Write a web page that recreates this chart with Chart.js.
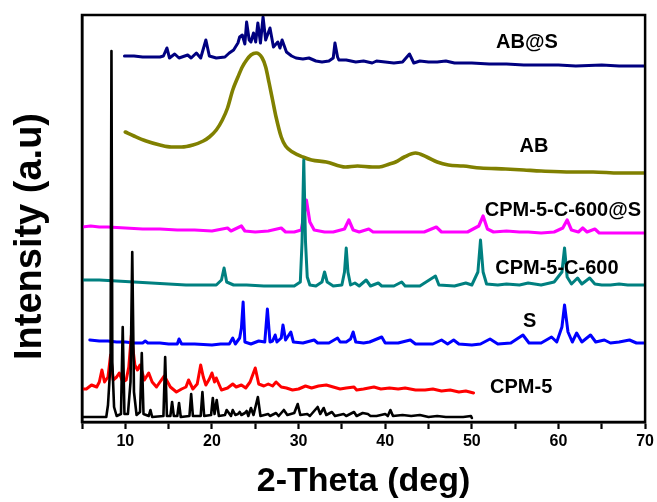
<!DOCTYPE html>
<html>
<head>
<meta charset="utf-8">
<script src="https://cdn.jsdelivr.net/npm/chart.js@4/dist/chart.umd.min.js"></script>
<style>
  html, body { margin: 0; padding: 0; background: #ffffff; }
  #wrap { width: 657px; height: 502px; }
</style>
</head>
<body>
<div id="wrap"><canvas id="c" width="657" height="502"></canvas></div>
<script>
// ---------- x-axis ticks ----------
const xTickValues = [5, 10, 15, 20, 25, 30, 35, 40, 45, 50, 55, 60, 65, 70];

// ---------- CPM-5 (simulated, black) ----------
const cpm5SimTheta = [5.0,7.8,8.0,8.3,8.4,8.5,8.7,9.0,9.5,9.7,9.9,10.3,10.6,10.8,11.0,11.3,11.7,11.9,12.1,12.7,12.9,13.1,14.4,14.6,14.8,15.2,15.4,15.6,16.0,16.2,16.4,17.4,17.6,17.8,18.7,18.9,19.1,19.9,20.1,20.3,20.55,20.8,21.5,21.7,22.2,22.4,22.7,23.0,23.2,23.4,23.8,24.0,24.2,24.5,24.8,25.3,25.6,26.5,26.7,27.4,27.7,28.3,28.7,29.5,29.9,30.2,31.0,31.3,32.2,32.5,32.9,33.2,33.85,34.2,35.2,35.5,36.4,36.7,37.4,38.0,38.3,39.0,40.0,40.3,40.6,40.9,42.0,43.0,44.0,44.5,45.0,46.0,47.0,48.0,49.0,49.9,50.0];
const cpm5SimInt   = [5,5,17,60,371,60,15,6,8,95,8,8,40,170,30,7,10,69,8,6,12,5,6,65,6,6,20,6,6,19,5,6,28,6,6,30,6,7,24,8,22,6,7,12,6,12,7,8,10,7,9,11,6,14,7,25,6,8,6,9,6,12,7,9,18,7,8,6,15,8,14,7,10,6,8,6,10,6,9,8,6,6,8,6,12,6,7,6,7,6,5,6,5,5,5,6,4];

// ---------- CPM-5 (red) ----------
const cpm5Theta = [5.1,5.5,6.1,6.7,7.0,7.3,7.6,8.0,8.3,8.6,9.0,9.3,9.7,10.1,10.4,10.7,11.1,11.4,11.7,12.2,12.7,13.1,13.6,14.0,14.5,15.2,15.9,16.5,17.0,17.3,17.8,18.3,18.7,19.0,19.3,19.7,20.0,20.3,20.5,21.1,21.8,22.4,22.8,23.4,23.9,24.4,25.0,25.4,26.0,26.5,27.0,27.4,28.0,28.6,29.3,30.0,30.8,31.5,32.3,33.2,34.0,34.8,35.5,36.4,36.7,37.5,38.7,39.5,40.5,41.5,42.3,43.5,44.6,45.5,46.5,47.5,48.5,49.3,50.2];
const cpm5Int   = [33,33,37,35,40,52,40,45,67,42,45,49,40,42,55,87,57,52,57,42,49,40,35,40,46,35,30,33,35,42,33,38,57,45,37,43,49,40,44,32,34,38,35,37,34,40,54,38,36,38,36,40,35,34,32,33,36,34,36,37,35,33,34,35,32,33,35,33,34,33,34,32,32,33,31,32,30,31,29];

// ---------- S (blue) ----------
const sTheta = [5.9,7.0,8.0,9.0,10.0,11.0,12.0,12.3,12.6,14.0,15.0,16.0,16.2,16.5,18.0,20.0,21.0,22.0,22.4,22.7,23.2,23.4,23.6,23.8,24.5,25.4,26.1,26.4,26.7,27.0,27.3,27.5,28.0,28.2,28.5,29.1,29.4,30.5,31.8,32.2,33.5,34.5,34.8,35.5,36.0,36.3,36.6,37.5,38.2,39.6,40.0,41.5,42.9,43.5,44.5,45.5,46.5,47.2,47.9,48.5,50.0,51.0,52.1,53.0,54.5,55.9,56.6,58.0,59.2,59.8,60.4,60.7,61.1,61.6,62.1,62.7,63.7,64.3,65.3,66.0,67.0,68.2,69.0,70.0];
const sInt   = [82,81,81,80,80,79,79,81,79,79,78,78,83,78,78,77,78,78,84,78,84,94,120,80,78,81,80,113,80,81,87,80,84,97,82,90,80,79,82,79,79,84,80,80,83,90,80,79,80,85,79,79,82,78,78,78,82,78,82,78,77,78,83,78,79,87,79,79,85,80,95,117,90,80,89,80,87,80,82,79,80,82,79,79];

// ---------- CPM-5-C-600 (teal) ----------
const c600Theta = [5.0,7.0,9.0,11.0,13.0,15.0,17.0,19.0,20.5,21.1,21.4,21.7,22.5,24.0,26.0,28.0,29.5,30.2,30.4,30.6,30.8,31.0,31.3,32.0,32.7,33.0,33.3,34.0,35.0,35.3,35.5,35.7,36.0,36.5,37.0,37.8,38.3,39.2,39.6,41.0,41.9,42.3,44.0,45.8,46.2,48.0,49.3,50.0,50.7,51.0,51.3,51.7,53.0,54.0,55.5,56.5,58.0,59.5,60.4,60.7,61.0,61.5,62.2,62.7,63.6,64.2,65.0,66.0,67.0,68.0,69.0,70.0];
const c600Int   = [142,142,141,140,139,138,137,137,137,142,154,140,137,137,136,136,136,140,180,262,180,145,137,136,140,150,140,136,137,150,174,150,137,139,136,142,136,139,136,136,140,136,136,146,137,136,139,137,150,182,150,138,137,138,137,139,137,140,150,174,145,138,144,138,144,138,137,137,138,137,137,137];

// ---------- CPM-5-C-600@S (magenta) ----------
const c600sTheta = [5.0,6.0,7.0,8.0,10.0,12.0,14.0,16.0,18.0,20.0,21.8,22.2,23.4,23.8,25.0,26.5,28.0,28.5,29.5,30.3,30.6,30.9,31.3,31.8,33.0,34.0,35.3,35.8,36.3,37.0,38.1,38.6,40.0,41.5,43.0,44.5,45.9,46.5,48.0,49.5,50.8,51.3,51.8,52.5,54.0,55.5,56.5,58.0,59.5,60.5,61.0,61.5,62.3,62.8,63.3,64.2,64.7,66.0,68.0,70.0];
const c600sInt   = [195,196,195,195,194,193,193,192,192,191,194,191,196,191,190,191,194,190,190,192,205,222,200,192,190,190,193,202,192,190,193,190,190,190,190,190,195,190,190,190,196,206,193,190,191,190,190,189,190,194,202,192,190,194,190,193,189,189,189,189];

// ---------- AB (olive) ----------
const abTheta = [10.0,11.0,12.4,14.0,15.3,16.5,17.8,19.0,19.7,20.5,21.2,21.8,22.4,23.0,23.5,24.0,24.5,25.1,25.8,26.2,26.6,27.0,27.4,28.0,28.5,29.3,30.5,31.5,33.2,35.4,36.8,38.5,39.3,40.5,41.2,42.2,43.5,44.8,46.0,47.3,49.0,51.0,53.9,56.0,58.0,61.5,64.0,67.0,70.0];
const abInt   = [290,286,281,277,275,275,277,281,285,292,302,314,332,345,355,362,367,369,364,355,339,322,305,285,276,270,265,262,260,255,256,255,255,258,260,265,269,265,260,257,256,254,253,252,251,250,250,249,249];

// ---------- AB@S (navy) ----------
const absTheta = [9.9,11.0,12.0,13.0,14.0,14.4,14.8,15.1,15.7,16.2,17.2,17.6,18.2,18.7,19.3,19.7,20.5,21.5,22.0,22.5,23.0,23.2,23.5,23.8,24.0,24.3,24.5,24.8,25.05,25.3,25.6,25.9,26.2,26.7,27.1,27.6,27.85,28.1,28.6,29.2,29.7,30.5,31.2,32.0,32.7,33.5,34.0,34.2,34.5,34.65,35.5,36.6,37.5,38.5,39.0,40.0,41.0,42.0,42.8,43.3,44.0,45.0,46.0,47.0,48.0,50.0,52.0,54.0,56.0,58.0,60.0,62.0,65.0,67.0,70.0];
const absInt   = [366,366,365,365,365,366,374,364,368,364,367,364,369,364,382,366,364,365,369,372,379,385,387,378,400,382,380,389,380,399,379,405,382,394,375,380,374,382,370,366,364,363,364,361,360,361,364,379,365,362,362,360,361,359,361,360,359,360,368,359,361,360,360,361,359,359,358,358,357,357,357,356,357,356,356];

// ---------- labels ----------
const seriesNames  = ['CPM-5 (simulated)', 'CPM-5', 'S', 'CPM-5-C-600', 'CPM-5-C-600@S', 'AB', 'AB@S'];
const labelText    = ['AB@S', 'AB', 'CPM-5-C-600@S', 'CPM-5-C-600', 'S', 'CPM-5'];
const labelTheta   = [52.8, 55.5, 51.5, 52.7, 55.9, 52.1];
const labelLevel   = [380, 276, 212, 154, 101, 35];

const xTitle = '2-Theta (deg)';
const yTitle = 'Intensity (a.u)';

const FONT = "'Liberation Sans', Arial, sans-serif";

function pts(xs, ys) { return xs.map((x, i) => ({ x: x, y: ys[i] })); }

const seriesData = [
  pts(cpm5SimTheta, cpm5SimInt),
  pts(cpm5Theta, cpm5Int),
  pts(sTheta, sInt),
  pts(c600Theta, c600Int),
  pts(c600sTheta, c600sInt),
  pts(abTheta, abInt),
  pts(absTheta, absInt)
];
const seriesColors = ['#000000', '#ff0000', '#0000ff', '#008080', '#ff00ff', '#808000', '#000080'];
const seriesWidths = [2.6, 3.0, 3.0, 3.0, 3.2, 3.6, 3.0];
const seriesSmooth = [false, false, false, false, false, true, false];

const framePlugin = {
  id: 'frame',
  afterDraw(chart) {
    const { ctx, chartArea: a, scales } = chart;
    ctx.save();
    // frame
    ctx.strokeStyle = '#000';
    ctx.lineWidth = 2.5;
    ctx.strokeRect(a.left, a.top, a.right - a.left, a.bottom - a.top);
    // series labels
    ctx.fillStyle = '#000';
    ctx.font = 'bold 20px ' + FONT;
    ctx.textAlign = 'left';
    ctx.textBaseline = 'middle';
    labelText.forEach((t, i) => {
      ctx.fillText(t, scales.x.getPixelForValue(labelTheta[i]), scales.y.getPixelForValue(labelLevel[i]));
    });
    // y title
    ctx.font = 'bold 38px ' + FONT;
    ctx.textAlign = 'center';
    ctx.textBaseline = 'middle';
    ctx.translate(31, (a.top + a.bottom) / 2 + 18);
    ctx.rotate(-Math.PI / 2);
    ctx.fillText(yTitle, 0, 0);
    ctx.restore();
  }
};

new Chart(document.getElementById('c'), {
  type: 'line',
  data: {
    datasets: seriesData.map((d, i) => ({
      label: seriesNames[i],
      data: d,
      borderColor: seriesColors[i],
      backgroundColor: seriesColors[i],
      borderWidth: seriesWidths[i],
      pointRadius: 0,
      tension: seriesSmooth[i] ? 0.4 : 0,
      cubicInterpolationMode: seriesSmooth[i] ? 'monotone' : 'default',
      fill: false,
      borderJoinStyle: 'round',
      borderCapStyle: 'round'
    }))
  },
  options: {
    responsive: false,
    animation: false,
    events: [],
    layout: { padding: { top: 15, right: 10, left: 0, bottom: 0 } },
    plugins: { legend: { display: false }, tooltip: { enabled: false }, title: { display: false } },
    scales: {
      x: {
        type: 'linear',
        min: 5,
        max: 70,
        afterBuildTicks: s => { s.ticks = xTickValues.map(v => ({ value: v })); },
        afterFit: s => { s.height = 80; },
        grid: { display: true, drawOnChartArea: false, drawTicks: true, tickLength: 7, tickWidth: 2.2, tickColor: '#000' },
        border: { display: true, color: '#000', width: 2.5 },
        ticks: {
          autoSkip: false,
          maxRotation: 0,
          padding: 3,
          color: '#000',
          font: { family: FONT, size: 16, weight: 'bold' },
          callback: v => (v % 10 === 0 ? String(v) : '')
        },
        title: {
          display: true,
          text: xTitle,
          color: '#000',
          font: { family: FONT, size: 34, weight: 'bold' },
          padding: { top: 0, bottom: 0 }
        }
      },
      y: {
        type: 'linear',
        min: 0,
        max: 407,
        afterFit: s => { s.width = 82; },
        grid: { display: false },
        border: { display: true, color: '#000', width: 2.5 },
        ticks: { display: false },
        title: { display: false, text: yTitle }
      }
    }
  },
  plugins: [framePlugin]
});
</script>
</body>
</html>
